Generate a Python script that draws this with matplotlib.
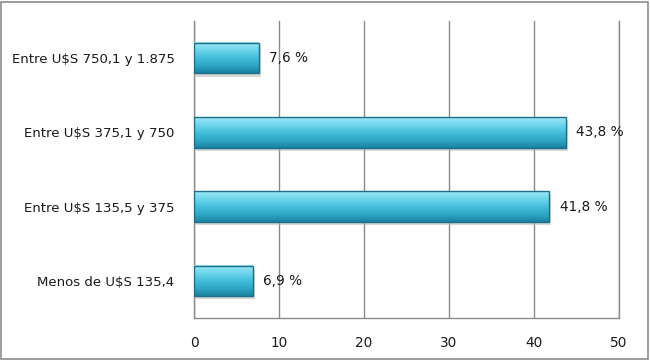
import matplotlib
matplotlib.use("Agg")
import matplotlib.pyplot as plt
import numpy as np
from matplotlib.patches import Rectangle
from matplotlib.colors import LinearSegmentedColormap

categories = ["Menos de U$S 135,4", "Entre U$S 135,5 y 375", "Entre U$S 375,1 y 750", "Entre U$S 750,1 y 1.875"]
values = [6.9, 41.8, 43.8, 7.6]
value_labels = ["6,9 %", "41,8 %", "43,8 %", "7,6 %"]
xticks = [0, 10, 20, 30, 40, 50]

W, H = 650, 363
fig = plt.figure(figsize=(W / 100, H / 100), dpi=100)
fig.patch.set_facecolor("white")
# outer border
fig.patches.append(Rectangle((1 / W, 1 - 359 / H), 647 / W, 357 / H, transform=fig.transFigure,
                             fill=False, edgecolor="#8c8c8c", linewidth=1.2))

ax = fig.add_axes([194 / W, 1 - 318 / H, (619 - 194) / W, (318 - 21) / H])

cmap = LinearSegmentedColormap.from_list("bar", ["#1a82a0", "#2fa8c7", "#45bfdb", "#6fd6ec", "#9be8f5"])
bh = 0.41
grad = np.linspace(0, 1, 64).reshape(-1, 1)
for i, v in enumerate(values):
    # shadow
    ax.add_patch(Rectangle((0.25, i - bh / 2 - 0.045), v, bh, facecolor="#b8b8b8", alpha=0.55,
                           edgecolor="none", zorder=2))
    ax.imshow(grad, extent=(0, v, i - bh / 2, i + bh / 2), origin="lower", cmap=cmap,
              aspect="auto", zorder=3, interpolation="bicubic")
    ax.add_patch(Rectangle((0, i - bh / 2), v, bh, fill=False, edgecolor="#1b6f86",
                           linewidth=1.0, zorder=4))
    ax.text(v + 1.2, i, value_labels[i], va="center", ha="left", fontsize=9.8,
            color="#1a1a1a", zorder=5)

ax.set_xlim(0, 50)
ax.set_ylim(-0.5, len(categories) - 0.5)
ax.set_yticks(range(len(categories)))
ax.set_yticklabels(categories, fontsize=9.5, color="#1a1a1a")
ax.set_xticks(xticks)
ax.set_xticklabels([str(t) for t in xticks], fontsize=9.8, color="#1a1a1a")
ax.tick_params(axis="both", length=0)
ax.tick_params(axis="y", pad=14)
ax.tick_params(axis="x", pad=13)
ax.grid(axis="x", color="#8a8a8a", linewidth=1.0, zorder=1)
ax.set_axisbelow(True)
ax.spines["top"].set_visible(False)
for s in ["left", "bottom", "right"]:
    ax.spines[s].set_color("#8a8a8a")
    ax.spines[s].set_linewidth(1.0)

fig.savefig("out.png", dpi=100, facecolor="white")
